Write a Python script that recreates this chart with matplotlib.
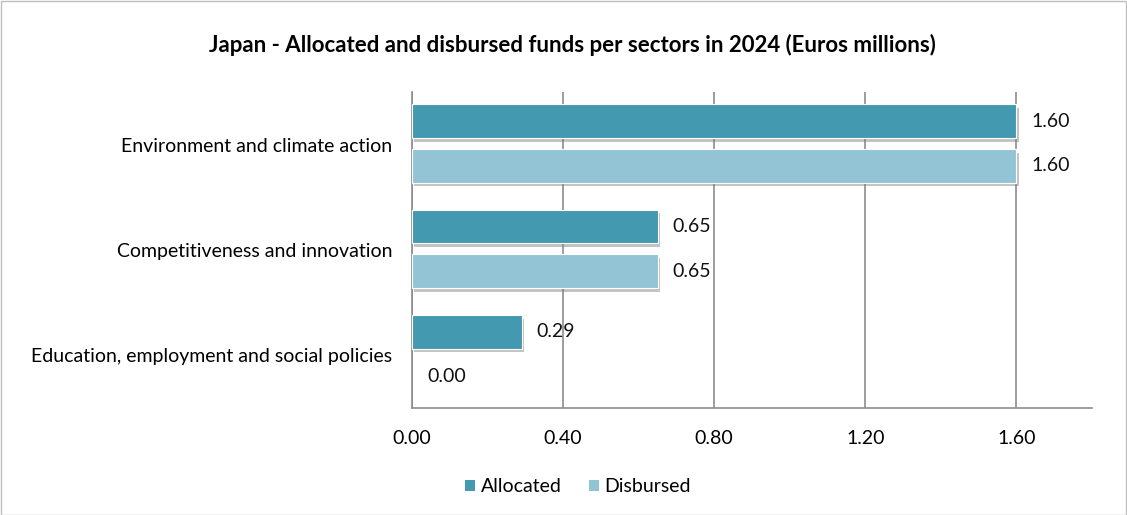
import matplotlib
matplotlib.use("Agg")
import matplotlib.pyplot as plt
import matplotlib.patheffects as pe
from matplotlib.patches import Rectangle
import numpy as np

categories = ["Environment and climate action", "Competitiveness and innovation",
              "Education, employment and social policies"]
allocated = [1.60, 0.65, 0.29]
disbursed = [1.60, 0.65, 0.00]
xticks = [0.00, 0.40, 0.80, 1.20, 1.60]
title = "Japan - Allocated and disbursed funds per sectors in 2024 (Euros millions)"

c_alloc = "#4299B0"
c_disb = "#93C4D5"
grid_c = "#8C8C8C"
font = "Lato"

W, H = 1127, 515
fig = plt.figure(figsize=(W / 100, H / 100), dpi=100)
ax = fig.add_axes([412 / W, 1 - 408 / H, (1092 - 412) / W, (408 - 92) / H])

n = len(categories)
ypos = np.arange(n)
bh = 0.32
gap = 0.105
shadow = [pe.SimplePatchShadow(offset=(1.5, -2.5), shadow_rgbFace="#7a7a7a", alpha=0.45), pe.Normal()]

b1 = ax.barh(ypos - (bh + gap) / 2 - 0.01, allocated, height=bh, color=c_alloc, edgecolor="white",
             linewidth=0.8, label="Allocated", zorder=3)
b2 = ax.barh(ypos + (bh + gap) / 2 - 0.01, disbursed, height=bh, color=c_disb, edgecolor="white",
             linewidth=0.8, label="Disbursed", zorder=3)
for bars, vals in ((b1, allocated), (b2, disbursed)):
    for b, v in zip(bars, vals):
        if v > 0:
            b.set_path_effects(shadow)
        else:
            b.set_linewidth(0)
        ax.annotate(f"{v:.2f}", (v, b.get_y() + b.get_height() / 2), xytext=(11, 0),
                    textcoords="offset points", ha="left", va="center",
                    fontsize=14, family=font, color="#111111", zorder=5)

ax.set_xlim(0, 1.8)
ax.set_ylim(n - 0.5, -0.5)
ax.set_yticks(ypos)
ax.set_yticklabels(categories, fontsize=14, family=font)
ax.set_xticks(xticks)
ax.set_xticklabels([f"{t:.2f}" for t in xticks], fontsize=14, family=font)
ax.tick_params(axis="y", length=0, pad=14)
ax.tick_params(axis="x", length=0, pad=16)
ax.xaxis.grid(True, color=grid_c, linewidth=1.2, zorder=0)
ax.set_axisbelow(True)
for s in ("top", "right"):
    ax.spines[s].set_visible(False)
for s in ("left", "bottom"):
    ax.spines[s].set_color(grid_c)
    ax.spines[s].set_linewidth(1.2)

fig.text(572 / W, 1 - 45 / H, title, ha="center", va="center", fontsize=16,
         fontweight="bold", family=font)

leg = fig.legend(handles=[b1, b2], labels=["Allocated", "Disbursed"], loc="center",
                 bbox_to_anchor=(578 / W, 1 - 487 / H), ncol=2, frameon=False,
                 prop={"family": font, "size": 14}, handlelength=0.5, handleheight=0.5,
                 handletextpad=0.3, columnspacing=1.4)
for h in leg.legend_handles:
    h.set_path_effects([])
    h.set_edgecolor("none")

fig.patches.append(Rectangle((0.5 / W, 0.5 / H), 1 - 1.5 / W, 1 - 1.5 / H, transform=fig.transFigure,
                             fill=False, edgecolor="#BFBFBF", linewidth=1))

fig.savefig("out.png", dpi=100)
